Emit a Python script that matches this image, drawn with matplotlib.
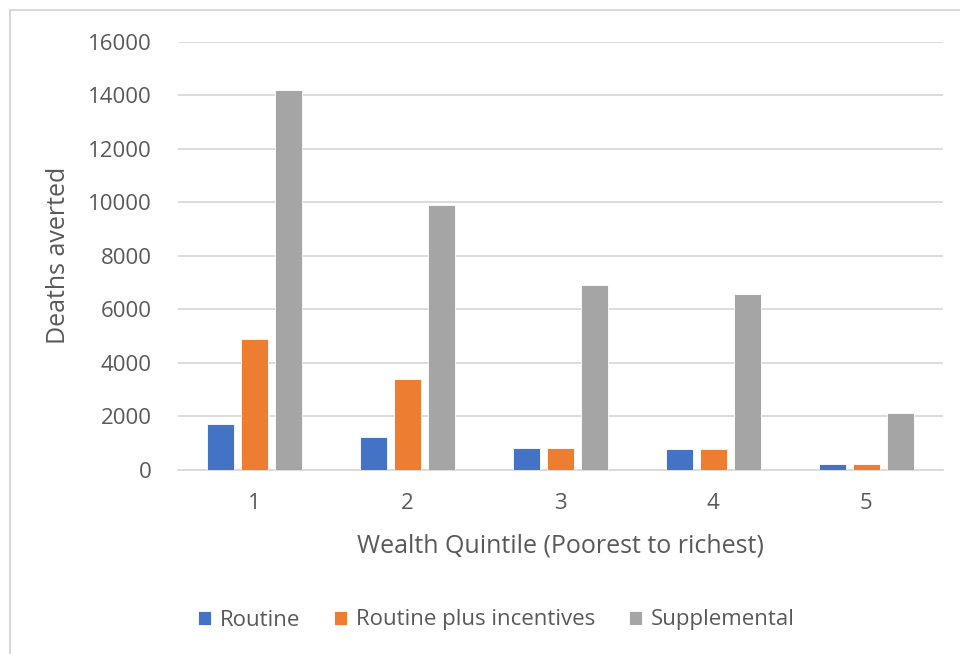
import matplotlib
matplotlib.use("Agg")
import matplotlib.pyplot as plt
from matplotlib.patches import Rectangle
import numpy as np

quintiles = ["1", "2", "3", "4", "5"]
routine = [1700, 1200, 820, 780, 220]
routine_incentives = [4900, 3400, 820, 780, 220]
supplemental = [14200, 9900, 6900, 6550, 2100]
series_names = ["Routine", "Routine plus incentives", "Supplemental"]
colors = ["#4472C4", "#ED7D31", "#A5A5A5"]
y_ticks = [0, 2000, 4000, 6000, 8000, 10000, 12000, 14000, 16000]

plt.rcParams["font.family"] = ["Open Sans", "DejaVu Sans"]
text_color = "#595959"
grid_color = "#D9D9D9"

fig = plt.figure(figsize=(9.6, 6.54), dpi=100)
ax = fig.add_axes([0.1854, 0.282, 0.7966, 0.654])

# chart frame (light grey border)
fig.patches.append(Rectangle((10 / 960, -0.1), 1.2, 1 - 10 / 654 + 0.1,
                             transform=fig.transFigure, fill=False,
                             edgecolor=grid_color, linewidth=1.5))

x = np.arange(len(quintiles))
width = 0.177
step = 0.222
for i, (vals, name, col) in enumerate(zip([routine, routine_incentives, supplemental],
                                         series_names, colors)):
    ax.bar(x + (i - 1) * step, vals, width, color=col, label=name,
           edgecolor="white", linewidth=0.6, zorder=3)

ax.set_xlim(-0.5, len(quintiles) - 0.5)
ax.set_ylim(0, 16000)
ax.set_yticks(y_ticks)
ax.set_yticklabels([str(t) for t in y_ticks])
ax.set_xticks(x)
ax.set_xticklabels(quintiles)
ax.yaxis.grid(True, color=grid_color, linewidth=1.3, zorder=0)
ax.set_axisbelow(True)
for s in ["top", "right", "left"]:
    ax.spines[s].set_visible(False)
ax.spines["bottom"].set_color(grid_color)
ax.spines["bottom"].set_linewidth(1.3)
ax.tick_params(axis="both", length=0, colors=text_color, labelsize=16)
ax.tick_params(axis="y", pad=19)
ax.tick_params(axis="x", pad=17)

ax.set_ylabel("Deaths averted", fontsize=18, color=text_color, labelpad=12)
ax.set_xlabel("Wealth Quintile (Poorest to richest)", fontsize=18,
              color=text_color, labelpad=14)

leg = fig.legend(loc="center", bbox_to_anchor=(0.517, 1 - 620 / 654), ncol=3,
                 frameon=False, fontsize=16, handlelength=0.6, handleheight=0.6,
                 handletextpad=0.4, columnspacing=1.5)
for t in leg.get_texts():
    t.set_color(text_color)

fig.savefig("out.png", dpi=100, facecolor="white")
